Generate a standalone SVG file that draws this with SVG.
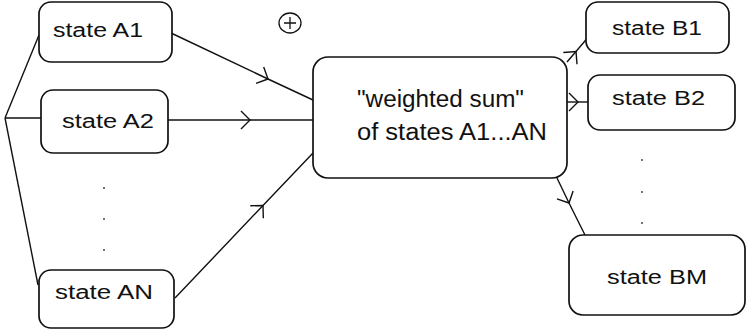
<svg xmlns="http://www.w3.org/2000/svg" width="747" height="330" viewBox="0 0 747 330">
<style>
.box{fill:#fff;stroke:#111;stroke-width:1.7}
.lbl{font-family:"Liberation Sans",Arial,sans-serif;font-size:20px;fill:#111}
.big{font-size:23px}
.ln{fill:none;stroke:#111;stroke-width:1.4}
.dot{fill:#444}
</style>
<defs>
<marker id="arr" markerUnits="userSpaceOnUse" markerWidth="24" markerHeight="24" viewBox="-12 -12 24 24" refX="0" refY="0" orient="auto">
<path d="M -9 -9 L 0 0 L -9 9" fill="none" stroke="#111" stroke-width="1.4"/>
</marker>
</defs>
<rect width="747" height="330" fill="#fff"/>
<g id="connectors">
<path class="ln" d="M 5 118 L 39 35"/>
<path class="ln" d="M 5 118 L 41 118"/>
<path class="ln" d="M 5 118 L 38 285"/>
<path class="ln" d="M 171 33 L 268 79 L 313 100" marker-mid="url(#arr)"/>
<path class="ln" d="M 168 120 L 250 120 L 313 120" marker-mid="url(#arr)"/>
<path class="ln" d="M 175 298 L 263 205.5 L 313 153" marker-mid="url(#arr)"/>
<path class="ln" d="M 567 62 L 576 51.5 L 590 35" marker-mid="url(#arr)"/>
<path class="ln" d="M 567 102 L 578 102 L 588 102" marker-mid="url(#arr)"/>
<path class="ln" d="M 557 178 L 569 203 L 585 235" marker-mid="url(#arr)"/>
</g>
<g id="plus">
<ellipse cx="290" cy="23" rx="11" ry="10" fill="none" stroke="#111" stroke-width="1.3"/>
<path d="M 284 23 H 296 M 290 17 V 29" stroke="#111" stroke-width="1.3"/>
</g>
<g id="stateA1">
<rect class="box" x="39" y="2" width="133" height="60" rx="12"/>
<text class="lbl" x="53" y="37" textLength="90" lengthAdjust="spacingAndGlyphs">state A1</text>
</g>
<g id="stateA2">
<rect class="box" x="41" y="90" width="127" height="63" rx="12"/>
<text class="lbl" x="62" y="128" textLength="92" lengthAdjust="spacingAndGlyphs">state A2</text>
</g>
<g id="dotsA">
<circle class="dot" cx="104" cy="188" r="1"/>
<circle class="dot" cx="104" cy="219" r="1"/>
<circle class="dot" cx="104" cy="250" r="1"/>
</g>
<g id="stateAN">
<rect class="box" x="39" y="270" width="135" height="58" rx="12"/>
<text class="lbl" x="55" y="299" textLength="98" lengthAdjust="spacingAndGlyphs">state AN</text>
</g>
<g id="weightedSum">
<rect class="box" x="313" y="57" width="254" height="121" rx="15"/>
<text class="lbl big" x="357" y="107" textLength="167" lengthAdjust="spacingAndGlyphs">"weighted sum"</text>
<text class="lbl big" x="357" y="140" textLength="190" lengthAdjust="spacingAndGlyphs">of states A1...AN</text>
</g>
<g id="stateB1">
<rect class="box" x="586" y="2" width="143" height="51" rx="12"/>
<text class="lbl" x="612" y="35" textLength="90" lengthAdjust="spacingAndGlyphs">state B1</text>
</g>
<g id="stateB2">
<rect class="box" x="588" y="75" width="147" height="55" rx="12"/>
<text class="lbl" x="612" y="105" textLength="93" lengthAdjust="spacingAndGlyphs">state B2</text>
</g>
<g id="dotsB">
<circle class="dot" cx="642" cy="160" r="1"/>
<circle class="dot" cx="642" cy="192" r="1"/>
<circle class="dot" cx="642" cy="223" r="1"/>
</g>
<g id="stateBM">
<rect class="box" x="569" y="235" width="176" height="80" rx="14"/>
<text class="lbl" x="607" y="284" textLength="100" lengthAdjust="spacingAndGlyphs">state BM</text>
</g>
</svg>
